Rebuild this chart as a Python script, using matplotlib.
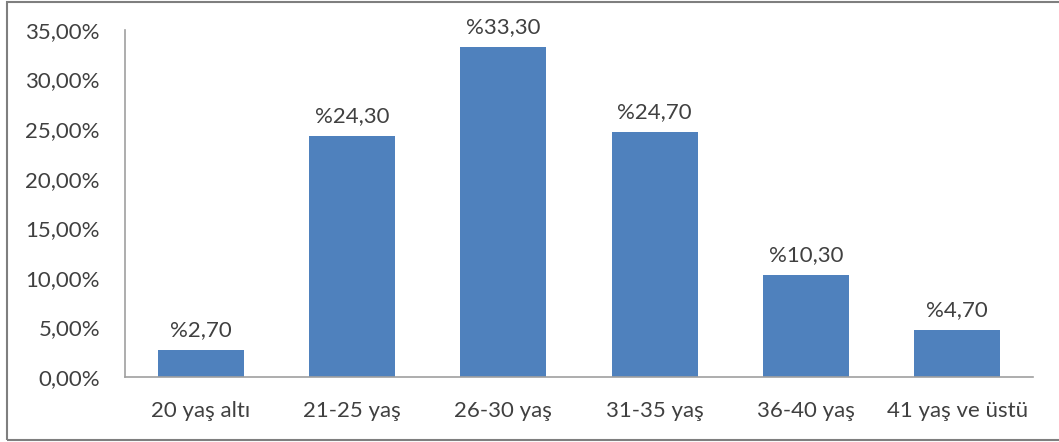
import matplotlib.pyplot as plt
from matplotlib.patches import Rectangle

plt.rcParams['font.family'] = ['Lato', 'DejaVu Sans']

groups = ['20 yaş altı', '21-25 yaş', '26-30 yaş', '31-35 yaş', '36-40 yaş', '41 yaş ve üstü']
shares = [2.7, 24.3, 33.3, 24.7, 10.3, 4.7]
yticks = [0, 5, 10, 15, 20, 25, 30, 35]

W, H = 1059, 442
fig = plt.figure(figsize=(W / 100, H / 100), dpi=100)
fig.patch.set_facecolor('white')

# outer chart frame (runs off the right edge)
fig.add_artist(Rectangle((7 / W, 2 / H), 1.2, (440 - 2) / H, transform=fig.transFigure,
                         fill=False, edgecolor='#7f7f7f', linewidth=1.5))

ax = fig.add_axes([125 / W, 1 - 377 / H, (1033 - 125) / W, (377 - 30) / H])
x = range(len(groups))
ax.bar(x, shares, width=0.57, color='#4f81bd')

for i, v in zip(x, shares):
    ax.text(i, v + 1.0, '%' + f'{v:.2f}'.replace('.', ','), ha='center', va='bottom',
            fontsize=16, color='#404040')

ax.set_xlim(-0.5, len(groups) - 0.5)
ax.set_ylim(0, 35)
ax.set_yticks(yticks)
ax.set_yticklabels([f'{t:.2f}'.replace('.', ',') + '%' for t in yticks])
ax.set_xticks(list(x))
ax.set_xticklabels(groups)
ax.tick_params(length=0, labelsize=16, colors='#404040')
ax.tick_params(axis='y', pad=18)
ax.tick_params(axis='x', pad=17)

for side in ['top', 'right']:
    ax.spines[side].set_visible(False)
for side in ['left', 'bottom']:
    ax.spines[side].set_color('#a0a0a0')
    ax.spines[side].set_linewidth(1.2)

fig.savefig('out.png', dpi=100)
